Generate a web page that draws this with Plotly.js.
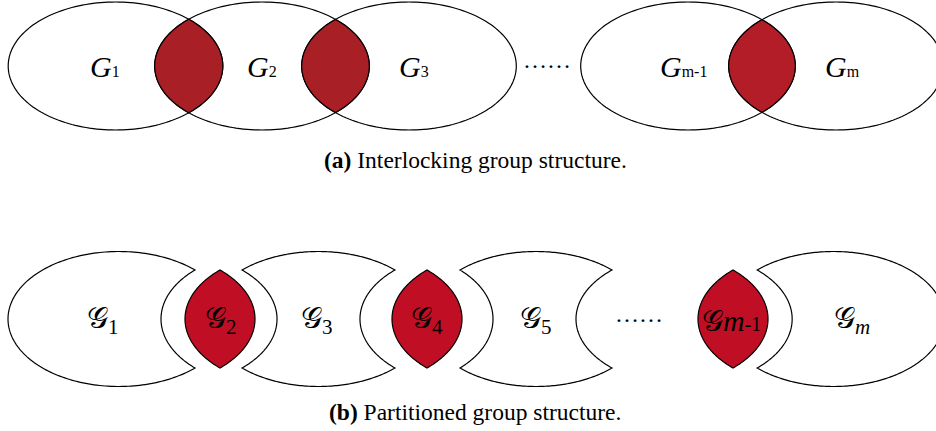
<!DOCTYPE html>
<html><head><meta charset="utf-8">
<script src="https://cdn.plot.ly/plotly-3.0.1.min.js"></script>
<style>html,body{margin:0;padding:0;background:#fff}</style>
</head><body>
<div id="chart" style="width:936px;height:431px"></div>
<script>
// ---- content ----
const topNames = ['1', '2', '3', 'm-1', 'm'];
const bottomNames = ['1', '2', '3', '4', '5', 'm-1', 'm'];
const captionTags = ['(a)', '(b)'];
const captionTexts = ['Interlocking group structure.', 'Partitioned group structure.'];
const ellipsisText = '……';

// ---- geometry (layout, pixels) ----
const TOP = {cy: 66, ry: 64, rx: 107.3, centers: [115.5, 262, 409, 688, 836], lensPairs: [[0,1],[1,2],[3,4]],
  lensColors: ['#a81f26', '#a81f26', '#b21d27'], labelX: [105, 262, 414, 683, 842], labelY: 66, dotsX: 547, dotsY: 60};
const BOT = {cy: 319, ry: 67.5, h: 49,
  groups: [ {cx: 118.8, rx: 110.8, l: 0, r: 34}, {cx: 318.5, rx: 111.2, l: 35, r: 35},
            {cx: 536, rx: 110.5, l: 33, r: 36}, {cx: 833.5, rx: 111, l: 35, r: 0} ],
  lenses: [220, 427, 733], lensHalf: 35, lensColor: '#c00f24',
  labelX: [103, 221, 317, 427, 536, 731, 852], labelY: 320, dotsX: 639, dotsY: 314};
const CAP = {x: 475, y: [160, 412]};

const N = 90;
function pathStr(pts){ return 'M' + pts.map(p => p[0].toFixed(2) + ',' + p[1].toFixed(2)).join('L') + 'Z'; }
function ellipsePts(cx, cy, rx, ry){ const a=[]; for(let i=0;i<=2*N;i++){const t=Math.PI*i/N; a.push([cx+rx*Math.cos(t), cy-ry*Math.sin(t)]);} return a; }
// arc through tips (xt, cy±h) bulging to xb, taken from an ellipse of vertical radius R
function arcX(xt, xb, y, cy, h, R){ const s0=Math.sqrt(1-(h/R)**2); const s=Math.sqrt(Math.max(0,1-((y-cy)/R)**2)); return xt+(xb-xt)*(s-s0)/(1-s0); }

const shapes = [];
const line = {color: '#000', width: 1.2};
// top ellipses
TOP.centers.forEach(c => shapes.push({type:'path', xref:'x', yref:'y', path: pathStr(ellipsePts(c, TOP.cy, TOP.rx, TOP.ry)), fillcolor:'rgba(255,255,255,0)', line}));
// top lenses
TOP.lensPairs.forEach((pr, k) => {
  const c1 = TOP.centers[pr[0]], c2 = TOP.centers[pr[1]];
  const pts = [];
  const f = y => Math.sqrt(Math.max(0, 1-((y-TOP.cy)/TOP.ry)**2));
  const h = TOP.ry*Math.sqrt(1-((c2-c1)/2/TOP.rx)**2);
  for(let i=0;i<=N;i++){ const y = TOP.cy - h + 2*h*i/N; pts.push([c2 - TOP.rx*f(y), y]); }
  for(let i=0;i<=N;i++){ const y = TOP.cy + h - 2*h*i/N; pts.push([c1 + TOP.rx*f(y), y]); }
  shapes.push({type:'path', xref:'x', yref:'y', path: pathStr(pts), fillcolor: TOP.lensColors[k], line});
});
// bottom group shapes
const th0 = Math.asin(BOT.h/BOT.ry);
const s0 = Math.cos(th0);
BOT.groups.forEach(g => {
  const pts = [];
  const pt = t => [g.cx + g.rx*Math.cos(t), BOT.cy - BOT.ry*Math.sin(t)];
  const tipL = g.cx - g.rx*s0, tipR = g.cx + g.rx*s0;
  if (g.l > 0) {
    for(let i=0;i<=N;i++){ pts.push(pt(th0 + (Math.PI-2*th0)*i/N)); }
    for(let i=1;i<N;i++){ const y = BOT.cy - BOT.h + 2*BOT.h*i/N; pts.push([arcX(tipL, tipL+g.l, y, BOT.cy, BOT.h, BOT.ry), y]); }
    for(let i=0;i<=N;i++){ pts.push(pt(Math.PI + th0 + (Math.PI-2*th0)*i/N)); }
  } else {
    for(let i=0;i<=2*N;i++){ pts.push(pt(th0 + (2*Math.PI-2*th0)*i/(2*N))); }
  }
  if (g.r > 0) {
    for(let i=1;i<N;i++){ const y = BOT.cy + BOT.h - 2*BOT.h*i/N; pts.push([arcX(tipR, tipR-g.r, y, BOT.cy, BOT.h, BOT.ry), y]); }
  } else {
    for(let i=0;i<=N;i++){ pts.push(pt(-th0 + 2*th0*i/N)); }
  }
  shapes.push({type:'path', xref:'x', yref:'y', path: pathStr(pts), fillcolor:'#fff', line});
});
// bottom lenses
BOT.lenses.forEach(lx => {
  const pts = [];
  for(let i=0;i<=N;i++){ const y = BOT.cy - BOT.h + 2*BOT.h*i/N; pts.push([arcX(lx, lx-BOT.lensHalf, y, BOT.cy, BOT.h, BOT.ry), y]); }
  for(let i=1;i<N;i++){ const y = BOT.cy + BOT.h - 2*BOT.h*i/N; pts.push([arcX(lx, lx+BOT.lensHalf, y, BOT.cy, BOT.h, BOT.ry), y]); }
  shapes.push({type:'path', xref:'x', yref:'y', path: pathStr(pts), fillcolor: BOT.lensColor, line});
});

const serif = 'Liberation Serif, Times New Roman, serif';
const annotations = [];
topNames.forEach((n, i) => annotations.push({x: TOP.labelX[i], y: TOP.labelY, xref:'x', yref:'y', showarrow:false,
  text: '<i>G</i><span style="font-size:16px">' + n + '</span>', font:{family: serif, size: 30, color:'#000'}}));
bottomNames.forEach((n, i) => {
  let sub;
  if (n === 'm') sub = '<sub><i>m</i></sub>';
  else if (n.startsWith('m')) sub = '<span style="font-size:30px"><i>m</i></span><span style="font-size:20px">' + n.slice(1) + '</span>';
  else sub = '<sub>' + n + '</sub>';
  annotations.push({x: BOT.labelX[i], y: BOT.labelY, xref:'x', yref:'y', showarrow:false,
    text: '𝒢' + sub, font:{family: serif, size: 30, color:'#000'}});
});
annotations.push({x: TOP.dotsX, y: TOP.dotsY, xref:'x', yref:'y', showarrow:false, text: ellipsisText, font:{family: serif, size: 24, color:'#000'}});
annotations.push({x: BOT.dotsX, y: BOT.dotsY, xref:'x', yref:'y', showarrow:false, text: ellipsisText, font:{family: serif, size: 24, color:'#000'}});
captionTags.forEach((t, i) => annotations.push({x: CAP.x, y: CAP.y[i], xref:'x', yref:'y', showarrow:false,
  text: '<b>' + t + '</b> ' + captionTexts[i], font:{family: serif, size: 23.5, color:'#000'}}));

const layout = {
  width: 936, height: 431, margin: {l:0, r:0, t:0, b:0},
  paper_bgcolor: '#fff', plot_bgcolor: '#fff', showlegend: false,
  xaxis: {range: [0, 936], visible: false, fixedrange: true},
  yaxis: {range: [431, 0], visible: false, fixedrange: true},
  shapes, annotations
};
Plotly.newPlot('chart', [{x: [], y: [], type: 'scatter', mode: 'markers', hoverinfo: 'skip'}], layout, {staticPlot: true, displayModeBar: false});
</script>
</body></html>
